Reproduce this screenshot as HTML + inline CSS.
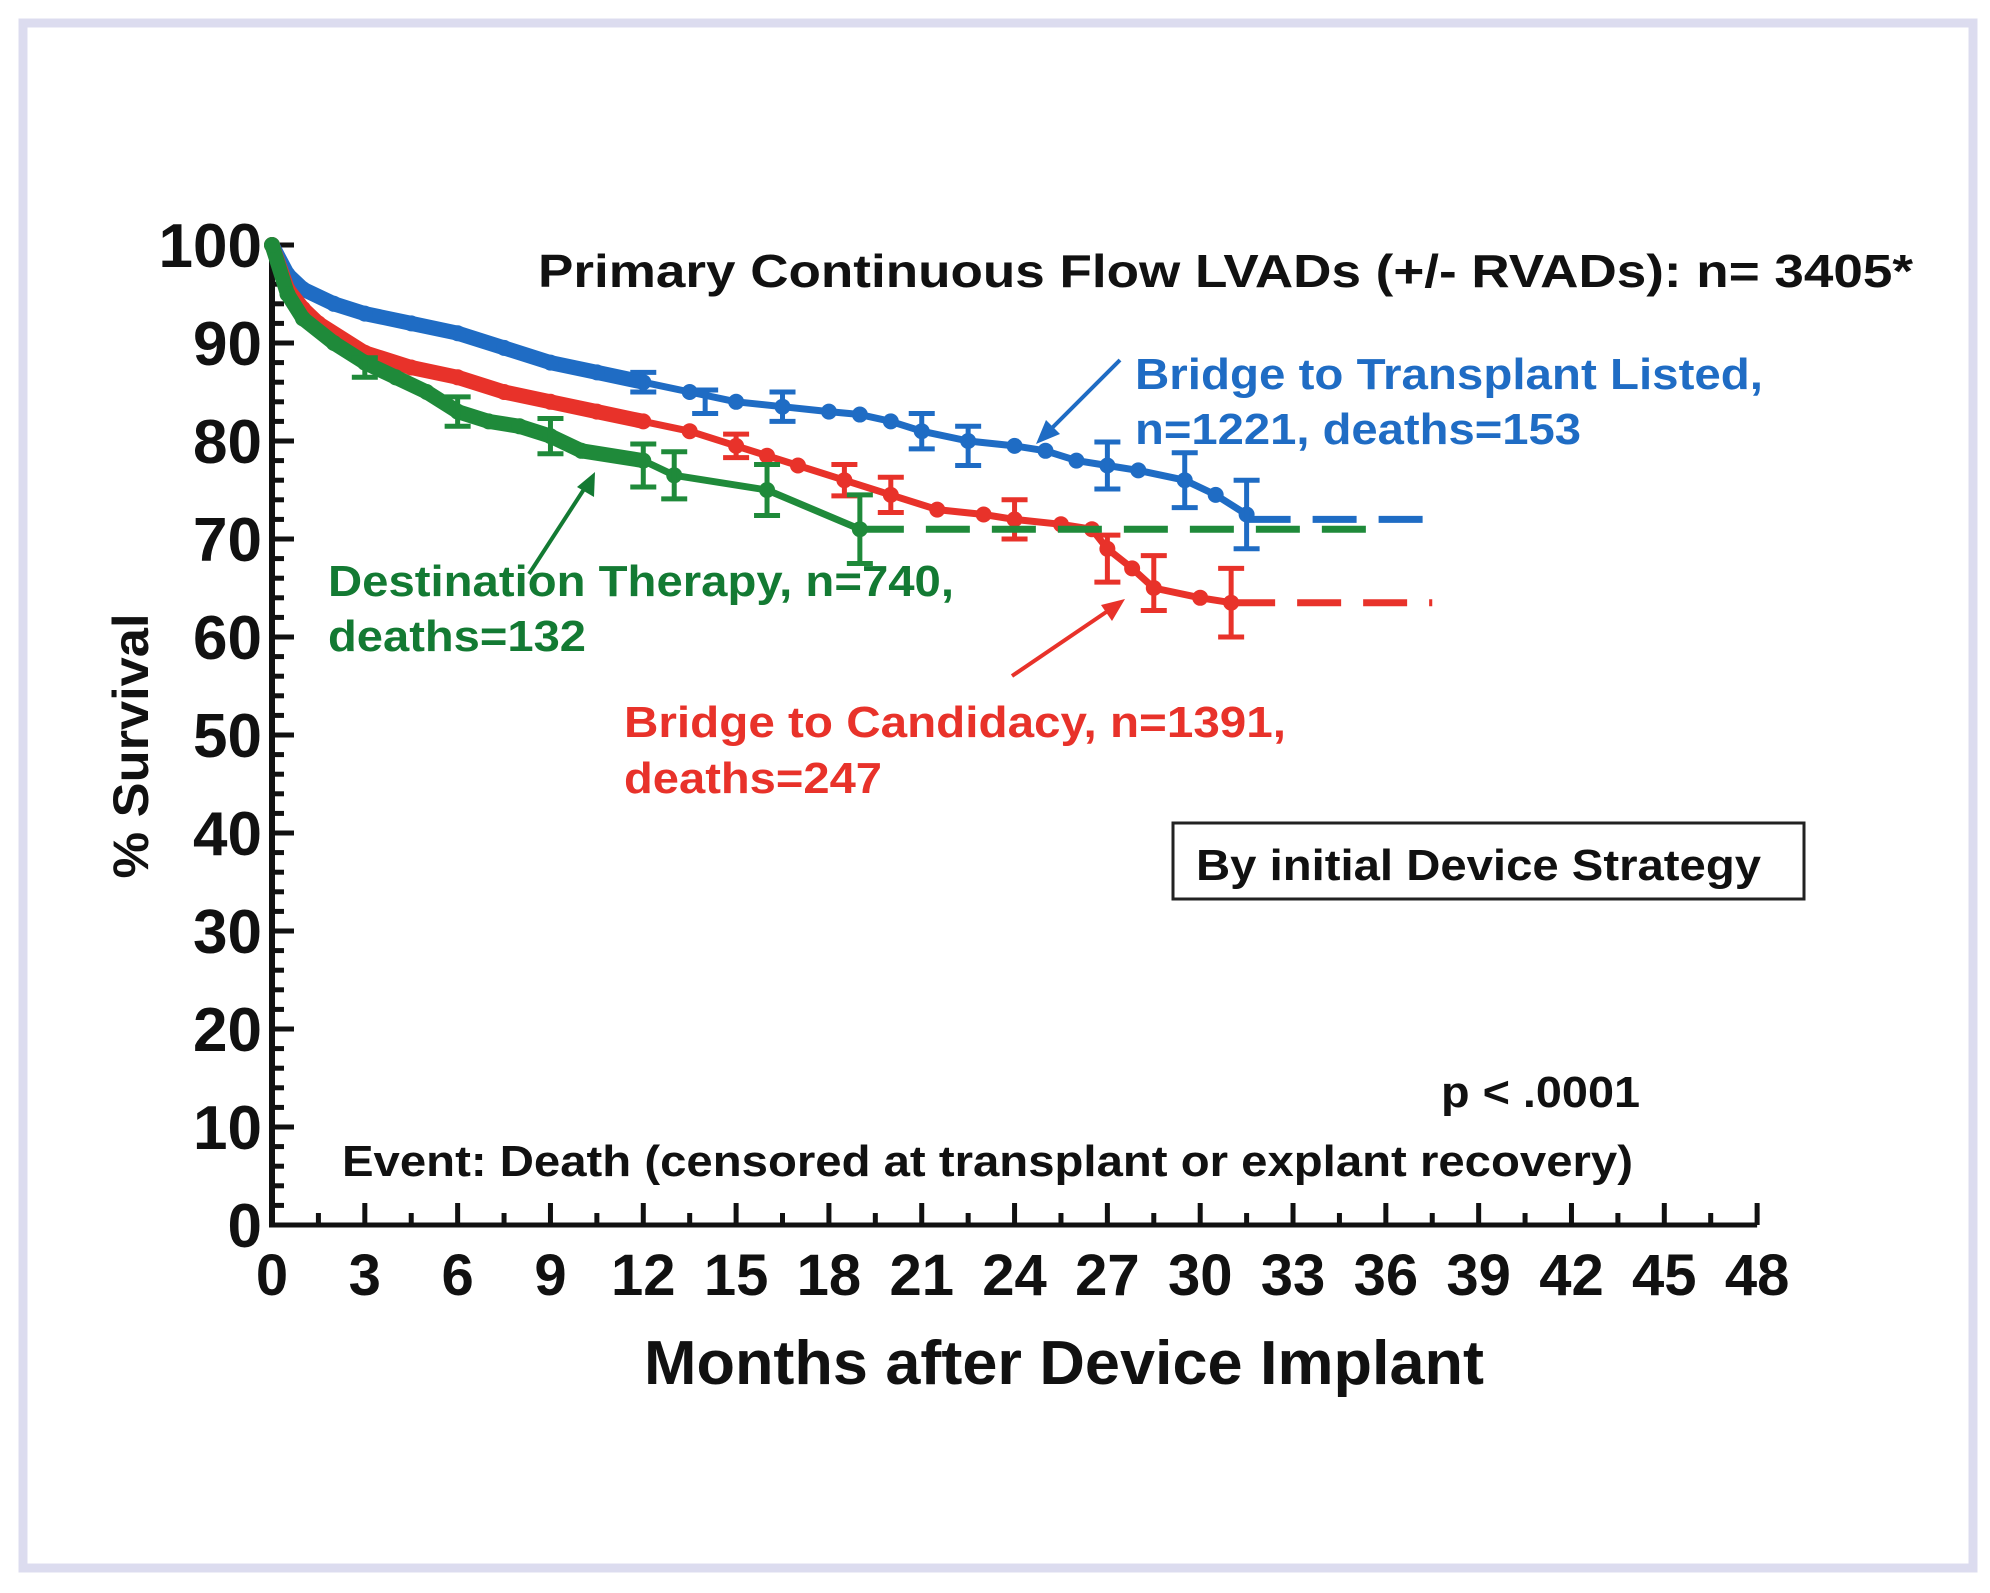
<!DOCTYPE html>
<html><head><meta charset="utf-8"><style>
html,body{margin:0;padding:0;background:#fff;}
svg{display:block;}
text{font-family:"Liberation Sans",sans-serif;font-weight:bold;}
</style></head><body>
<svg id="chart" width="1990" height="1593" viewBox="0 0 1990 1593" xmlns="http://www.w3.org/2000/svg">
<rect x="23" y="23" width="1950" height="1545" fill="#fff" stroke="#dcdcef" stroke-width="9"/>
<g id="axes"></g>
<g id="series"></g>
<text x="538" y="287" font-size="46" textLength="1375" lengthAdjust="spacingAndGlyphs" fill="#111">Primary Continuous Flow LVADs (+/- RVADs): n= 3405*</text>
<text transform="translate(148,746) rotate(-90)" text-anchor="middle" font-size="50" textLength="265" lengthAdjust="spacingAndGlyphs" fill="#111">% Survival</text>
<text x="644" y="1384" font-size="62" textLength="840" lengthAdjust="spacingAndGlyphs" fill="#111">Months after Device Implant</text>
<text x="1135" y="389" font-size="44" textLength="628" lengthAdjust="spacingAndGlyphs" fill="#1f6cc4">Bridge to Transplant Listed,</text>
<text x="1135" y="444" font-size="44" textLength="446" lengthAdjust="spacingAndGlyphs" fill="#1f6cc4">n=1221, deaths=153</text>
<text x="328" y="596" font-size="44" textLength="626" lengthAdjust="spacingAndGlyphs" fill="#137a33">Destination Therapy, n=740,</text>
<text x="328" y="651" font-size="44" textLength="258" lengthAdjust="spacingAndGlyphs" fill="#137a33">deaths=132</text>
<text x="624" y="737" font-size="44" textLength="662" lengthAdjust="spacingAndGlyphs" fill="#e8322a">Bridge to Candidacy, n=1391,</text>
<text x="624" y="793" font-size="44" textLength="258" lengthAdjust="spacingAndGlyphs" fill="#e8322a">deaths=247</text>
<g>
<rect x="1173" y="823" width="631" height="76" fill="#fff" stroke="#222" stroke-width="3"/>
<text x="1196" y="880" font-size="44" textLength="565" lengthAdjust="spacingAndGlyphs" fill="#111">By initial Device Strategy</text>
</g>
<text x="1441" y="1107" font-size="44" textLength="199" lengthAdjust="spacingAndGlyphs" fill="#111">p &lt; .0001</text>
<text x="342" y="1176" font-size="44" textLength="1291" lengthAdjust="spacingAndGlyphs" fill="#111">Event: Death (censored at transplant or explant recovery)</text>
<line x1="1120" y1="360" x2="1042" y2="438" stroke="#1f6cc4" stroke-width="4"/>
<polygon points="1036,444 1046,420 1060,434" fill="#1f6cc4"/>
<line x1="529" y1="574" x2="590" y2="480" stroke="#137a33" stroke-width="4"/>
<polygon points="595,472 594,497 577,487" fill="#137a33"/>
<line x1="1012" y1="676" x2="1118" y2="604" stroke="#e8322a" stroke-width="4"/>
<polygon points="1125,599 1112,621 1101,605" fill="#e8322a"/>
</svg>
<script>
const yTicks=[0,10,20,30,40,50,60,70,80,90,100];
const xTicks=[0,3,6,9,12,15,18,21,24,27,30,33,36,39,42,45,48];
const bttMonths=[0,0.5,1,2,3,4.5,6,7.5,9,10.5,12,13.5,15,16.5,18,19,20,21,22.5,24,25,26,27,28,29.5,30.5,31.5];
const bttSurv=[100,97,95.5,94,93,92,91,89.5,88,87,86,85,84,83.5,83,82.7,82,81,80,79.5,79,78,77.5,77,76,74.5,72.5];
const bttErrM=[12,14,16.5,21,22.5,27,29.5,31.5];
const bttErrV=[86,84,83.5,81,79.5,77.5,76,72.5];
const bttErrH=[1,1.2,1.5,1.8,2,2.4,2.8,3.5];
const bttTail=[31.5,37.5,72];
const btcMonths=[0,0.5,1,1.5,3,4.5,6,7.5,9,10.5,12,13.5,15,16,17,18.5,20,21.5,23,24,25.5,26.5,27,27.8,28.5,30,31];
const btcSurv=[100,95.5,93.5,92,89,87.5,86.5,85,84,83,82,81,79.5,78.5,77.5,76,74.5,73,72.5,72,71.5,71,69,67,65,64,63.5];
const btcErrM=[15,18.5,20,24,27,28.5,31];
const btcErrV=[79.5,76,74.5,72,68,65.5,63.5];
const btcErrH=[1.2,1.6,1.8,2,2.4,2.8,3.5];
const btcTail=[31,37.5,63.5];
const dtMonths=[0,0.5,1,2,3,4,5,6,7,8,9,10,12,13,16,19];
const dtSurv=[100,95,92.5,90,88,86.5,85,83,82,81.5,80.5,79,78,76.5,75,71];
const dtErrM=[3,6,9,12,13,16,19];
const dtErrV=[87.5,83,80.5,77.5,76.5,75,71];
const dtErrH=[1,1.5,1.8,2.2,2.4,2.6,3.5];
const dtTail=[19,35.5,71];

const X=m=>272+m*30.94;
const Y=p=>1225-p*9.8;
const NS='http://www.w3.org/2000/svg';
function mk(tag,attrs,parent){const e=document.createElementNS(NS,tag);for(const k in attrs)e.setAttribute(k,attrs[k]);parent.appendChild(e);return e;}
const axes=document.getElementById('axes');
const series=document.getElementById('series');

let l=mk('line',{x1:X(0),y1:Y(0),x2:X(0),y2:Y(100),stroke:'#111','stroke-width':6},axes);


l=mk('line',{x1:X(0)-3,y1:Y(0),x2:X(48),y2:Y(0),stroke:'#111','stroke-width':5},axes);


for(let p=0;p<=100;p+=2){
  const major=p%10===0;
  const t=mk('line',{x1:X(0),y1:Y(p),x2:X(0)+(major?22:12),y2:Y(p),stroke:'#111','stroke-width':5},axes);
  
  
}
yTicks.forEach(v=>{
  const t=mk('text',{x:262,y:Y(v)+22,'text-anchor':'end','font-size':62,fill:'#111'},axes);
  t.textContent=v;
  
  
});
for(let m=0;m<=48;m+=1.5){
  const major=m%3===0;
  const t=mk('line',{x1:X(m),y1:Y(0),x2:X(m),y2:Y(0)-(major?22:12),stroke:'#111','stroke-width':5},axes);
  
  
}
xTicks.forEach(v=>{
  const t=mk('text',{x:X(v),y:1295,'text-anchor':'middle','font-size':58,fill:'#111'},axes);
  t.textContent=v;
  
  
});

function drawSeries(name,color,ms,vs,em,ev,eh,tail){
  const g=mk('g',{},series);
  
  
  const tl=mk('line',{x1:X(tail[0]),y1:Y(tail[2]),x2:X(tail[1]),y2:Y(tail[2]),stroke:color,'stroke-width':7,'stroke-dasharray':'44 22'},g);
  
  
  const pts=ms.map((m,i)=>X(m)+','+Y(vs[i])).join(' ');
  const pl=mk('polyline',{points:pts,fill:'none',stroke:color,'stroke-width':7,'stroke-linejoin':'round'},g);
  
  
  const thick=mk('polyline',{points:ms.filter(m=>m<=12).map((m,i)=>X(m)+','+Y(vs[i])).join(' '),fill:'none',stroke:color,'stroke-width':15,'stroke-linejoin':'round'},g);
  
  
  ms.forEach((m,i)=>{
    const c=mk('circle',{cx:X(m),cy:Y(vs[i]),r:8,fill:color},g);
    
    
  });
  em.forEach((m,i)=>{
    const x=X(m),y1=Y(ev[i]+eh[i]),y2=Y(ev[i]-eh[i]);
    const e=mk('path',{d:`M${x},${y1}V${y2}M${x-13},${y1}H${x+13}M${x-13},${y2}H${x+13}`,stroke:color,'stroke-width':5,fill:'none'},g);
    
    
  });
}
drawSeries('btt','#1f6cc4',bttMonths,bttSurv,bttErrM,bttErrV,bttErrH,bttTail);
drawSeries('btc','#e8322a',btcMonths,btcSurv,btcErrM,btcErrV,btcErrH,btcTail);
drawSeries('dt','#1f8a3a',dtMonths,dtSurv,dtErrM,dtErrV,dtErrH,dtTail);
</script>
</body></html>
